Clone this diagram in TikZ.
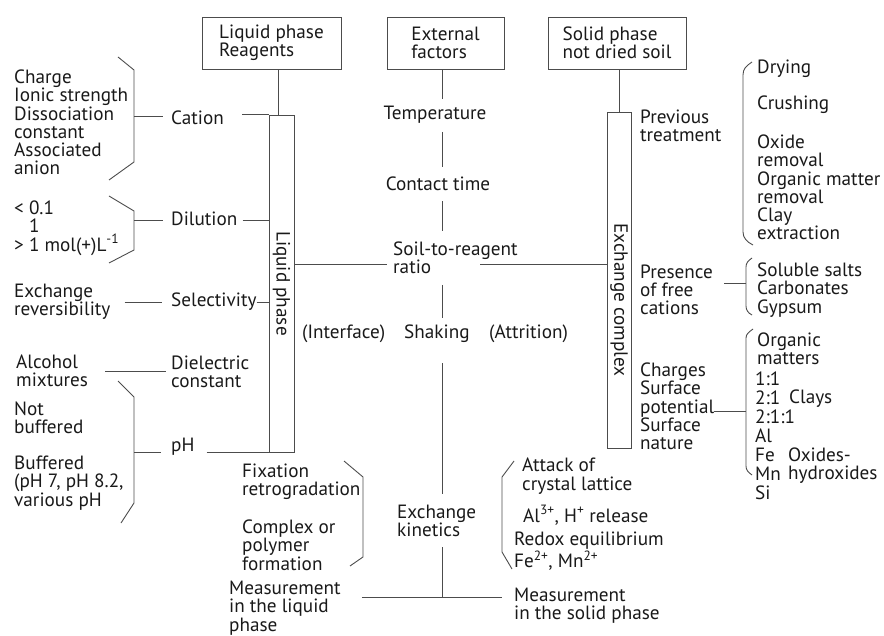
\documentclass[tikz,border=0pt]{standalone}
\usepackage{fontspec}
\setmainfont{PT Sans}
\begin{document}
\begin{tikzpicture}[x=1pt,y=-1pt,
  every node/.style={font=\fontsize{19.2}{18.3}\selectfont, text=black!90, inner sep=0pt},
  txt/.style={anchor=west, align=left},
  ln/.style={draw=black!70, line width=0.9pt},
  topbox/.style={draw=black!70, line width=0.9pt, align=left, minimum height=52pt},
  phasebar/.style={draw=black!70, line width=0.9pt, rotate=-90}
]
\useasboundingbox (0,0) rectangle (884,636);

% top boxes
\node[topbox, minimum width=139pt] (liqbox) at (271.5,43) {Liquid phase\\Reagents};
\node[topbox, minimum width=117pt] (extbox) at (445.5,43) {External\\factors};
\node[topbox, minimum width=138pt] (solbox) at (617,43) {Solid phase\\not dried soil};

% phase bars
\node[phasebar, minimum width=337pt, minimum height=25pt] (lp) at (281.5,283.5) {Liquid phase};
\node[phasebar, minimum width=336pt, minimum height=24pt] (ex) at (619,280) {\hspace*{40pt}Exchange complex};

% left texts
\node[txt] (cprops) at (14,122.5) {Charge\\Ionic strength\\Dissociation\\constant\\Associated\\anion};
\node[txt] (cation) at (171,118) {Cation};
\node[txt] (dvals) at (14,228) {< 0.1\\\phantom{> }1\\> 1 mol(+)L\textsuperscript{-1}};
\node[txt] (dil) at (171,219) {Dilution};
\node[txt] (exrev) at (14,302) {Exchange\\reversibility};
\node[txt] (sel) at (171,302) {Selectivity};
\node[txt] (alc) at (16,371) {Alcohol\\mixtures};
\node[txt] (diel) at (171,372) {Dielectric\\constant};
\node[txt] (notbuf) at (14,418) {Not\\buffered};
\node[txt] (ph) at (171,447) {pH};
\node[txt] (buf) at (14,483) {Buffered\\(pH 7, pH 8.2,\\various pH};

% centre texts
\node (temp) at (435,115) {Temperature};
\node (contact) at (438,184) {Contact time};
\node[txt] (soil) at (393,257.5) {Soil-to-reagent\\ratio};
\node[txt] (interf) at (302,334) {(Interface)};
\node[txt] (shak) at (404,334) {Shaking};
\node[txt] (attr) at (489,334) {(Attrition)};
\node[txt] (fix) at (242,482) {Fixation\\retrogradation};
\node[txt] (compl) at (242,545) {Complex or\\polymer\\formation};
\node[txt] (kin) at (397,521) {Exchange\\kinetics};
\node[txt] (measl) at (229,608) {Measurement\\in the liquid\\phase};
\node[txt] (meass) at (514,605.5) {Measurement\\in the solid phase};
\node[txt] (attack) at (522,476) {Attack of\\crystal lattice};
\node[txt] (alrel) at (523,515) {Al\textsuperscript{3+}, H\textsuperscript{+} release};
\node[txt] (redox) at (514,551.5) {Redox equilibrium\\Fe\textsuperscript{2+}, Mn\textsuperscript{2+}};

% right texts
\node[txt] (prev) at (640,126) {Previous\\treatment};
\node[txt] (dry) at (757,69) {Drying};
\node[txt] (crush) at (757,105) {Crushing};
\node[txt] (oxrem) at (757,187.5) {Oxide\\removal\\Organic matter\\removal\\Clay\\extraction};
\node[txt] (pres) at (640,290) {Presence\\of free\\cations};
\node[txt] (salts) at (757,290) {Soluble salts\\Carbonates\\Gypsum};
\node[txt] (charges) at (640,406.5) {Charges\\Surface\\potential\\Surface\\nature};
\node[txt] (orgm) at (757,349) {Organic\\matters};
\node[txt, font=\fontsize{19.2}{19}\selectfont] (ratios) at (755,436) {1:1\\2:1\\2:1:1\\Al\\Fe\\Mn\\Si};
\node[txt] (clays) at (789,399) {Clays};
\node[txt] (oxh) at (788,465.5) {Oxides-\\hydroxides};

% spine coordinates
\coordinate (axis) at (442,0);
\coordinate (cbr) at (134,116);
\coordinate (dbr) at (134,220);
\coordinate (pbr) at (134,452);
\coordinate (ratioY) at (0,264);
\coordinate (kjoin) at (442,597);
\coordinate (presbr) at (746,283);
\coordinate (chbr) at (746,411);

% brackets (left)
\draw[ln] (118,57) -- (134,70) -- (134,162) -- (109,180);
\draw[ln] (109,196) -- (134,211) -- (134,250) -- (109,263);
\draw[ln] (118,381) -- (134,397) -- (134,503) -- (121,523);
\draw[ln] (344,461) -- (363,477) -- (363,557) -- (350,566);
\draw[ln] (514,461) -- (502,477) -- (502,552) -- (512,569);
% brackets (right)
\draw[ln] (752,62) .. controls (746,66) and (743,69) .. (743,75) -- (743,232) .. controls (743,238) and (747,242) .. (753,245);
\draw[ln] (752,258) .. controls (748,261) and (746,263) .. (746,267) -- (746,306) .. controls (746,310) and (748,313) .. (752,315);
\draw[ln] (753,329) .. controls (749,332) and (746,334) .. (746,338) -- (746,466) .. controls (746,470) and (748,472) .. (752,475);

% left connectors
\draw[ln] (cbr) -- ([xshift=-8pt]cation.west |- cbr);
\draw[ln] ([xshift=18pt]cation.east |- lp.south west) -- (lp.south west);
\draw[ln] (dbr) -- ([xshift=-8pt]dil.west |- dbr);
\draw[ln] ([xshift=5pt]dil.east |- dbr) -- (dbr -| lp.south);
\draw[ln] ([xshift=14pt]exrev.east |- sel) -- ([xshift=-9pt]sel.west);
\draw[ln] (sel.east) -- (sel -| lp.south);
\draw[ln] ([xshift=17pt]alc.east) -- ([xshift=-5pt]diel.west |- alc);
\draw[ln] (pbr) -- ([xshift=-10pt]ph.west |- pbr);
\draw[ln] ([xshift=12pt]ph.east |- lp.south east) -- (lp.south east);

% vertical connectors
\draw[ln] ([xshift=6.5pt]liqbox.south) -- ([xshift=6.5pt]liqbox.south |- lp.west);
\draw[ln] (solbox.south -| ex.west) -- (ex.west);
\draw[ln, shorten >=7pt] (extbox.south -| axis) -- (temp.north -| axis);
\draw[ln, shorten <=8pt, shorten >=10pt] (temp.south -| axis) -- (contact.north -| axis);
\draw[ln, shorten <=10pt, shorten >=10pt] (contact.south -| axis) -- (soil.north -| axis);
\draw[ln, shorten <=11pt, shorten >=7pt] (soil.south -| axis) -- (shak.north -| axis);
\draw[ln, shorten <=20pt, shorten >=11pt] (shak.south -| axis) -- (kin.north -| axis);
\draw[ln, shorten <=10pt] (kin.south -| axis) -- (kjoin);
\draw[ln] ([xshift=21pt]measl.east |- kjoin) -- ([xshift=-12pt]meass.west |- kjoin);

% horizontal ratio line
\draw[ln] (lp.north |- ratioY) -- ([xshift=-6pt]soil.west |- ratioY);
\draw[ln] ([xshift=87pt]soil.west |- ratioY) -- (ex.south |- ratioY);

% right connectors
\draw[ln] ([xshift=11pt]pres.east |- presbr) -- (presbr);
\draw[ln] (charges.east |- chbr) -- (chbr);
\end{tikzpicture}
\end{document}
